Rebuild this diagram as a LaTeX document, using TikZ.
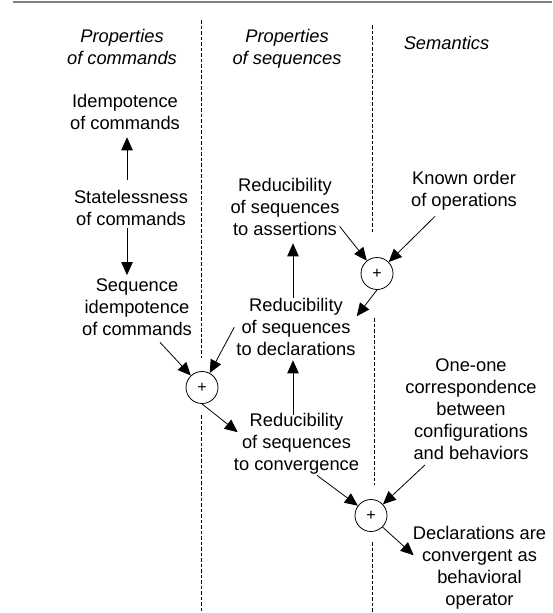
\documentclass[tikz,border=0pt]{standalone}
\usepackage{fontspec}
\setmainfont{Liberation Sans}
\usetikzlibrary{arrows.meta}
\newcommand\dfs{\fontsize{18.3}{22}\selectfont}
\begin{document}
\begin{tikzpicture}[x=1pt,y=-1pt,
  txt/.style={font=\dfs, align=center, inner sep=0pt, anchor=north, execute at begin node=\strut},
  hdr/.style={txt, font=\dfs\itshape},
  plus/.style={circle, draw, line width=0.8pt, minimum size=32pt, inner sep=0pt, font=\fontsize{16}{16}\selectfont},
  arr/.style={line width=0.8pt, -{Triangle[length=13pt,width=11.5pt]}},
  dline/.style={line width=0.8pt, dash pattern=on 3.5pt off 2pt},
  toprule/.style={line width=1.8pt, color=gray}]
\useasboundingbox (0,0) rectangle (552,613);
% top rule and column separators
\draw[toprule] (13,2) -- (552,2);
\draw[dline] (201,20) -- (201,358);
\draw[dline] (201,415) -- (201,613);
\draw[dline] (372,25) -- (372,233);
\draw[dline] (374,318) -- (374,485);
\draw[dline] (372,542) -- (372,613);
% headers
\node[hdr] (h1) at (122,28.6) {Properties\\of commands};
\node[hdr] (h2) at (287,28.6) {Properties\\of sequences};
\node[hdr] (h3) at (446.5,33.6) {Semantics};
% nodes
\node[txt] (idem) at (125,93.6) {Idempotence\\of commands};
\node[txt] (stat) at (131,189.6) {Statelessness\\of commands};
\node[txt] (seq) at (137,278.6) {Sequence\\idempotence\\of commands};
\node[txt] (asr) at (285,177.6) {Reducibility\\of sequences\\to assertions};
\node[txt] (dcl) at (296,297.6) {Reducibility\\of sequences\\to declarations};
\node[txt] (cnv) at (296.5,412.6) {Reducibility\\of sequences\\to convergence};
\node[txt] (known) at (464,171.1) {Known order\\of operations};
\node[txt] (one) at (471,358.6) {One-one\\correspondence\\between\\configurations\\and behaviors};
\node[txt] (dc) at (479.5,525.6) {Declarations are\\convergent as\\behavioral\\operator};
\node[plus] (p1) at (202,387.5) {+};
\node[plus] (p2) at (377,273.5) {+};
\node[plus] (p3) at (371,515.5) {+};
% connectors
\draw[arr] ([xshift=-4pt,yshift=10pt]stat.north) -- ([xshift=2pt,yshift=-1.4pt]idem.south);
\draw[arr] ([xshift=-4pt,yshift=3.5pt]stat.south) -- ([xshift=-10pt,yshift=3.5pt]seq.north);
\draw[arr] ([xshift=23pt]seq.south) -- (p1);
\draw[arr] ([xshift=-2pt,yshift=2.5pt]dcl.west) -- (p1);
\draw[arr] (p1.south) -- ([xshift=4pt,yshift=12.5pt]cnv.west);
\draw[arr] ([xshift=-3.5pt,yshift=-2.5pt]cnv.north) -- ([xshift=-3pt,yshift=1.5pt]dcl.south);
\draw[arr] ([xshift=-3pt]dcl.north) -- ([xshift=8pt,yshift=-1.5pt]asr.south);
\draw[arr] ([yshift=15.5pt]asr.south east) -- (p2);
\draw[arr] ([xshift=-29pt,yshift=-3pt]known.south) -- (p2);
\draw[arr] (p2.south) -- ([xshift=1pt,yshift=13.5pt]dcl.east);
\draw[arr] ([xshift=20.5pt,yshift=1.5pt]cnv.south) -- (p3);
\draw[arr] ([xshift=-46pt,yshift=1.5pt]one.south) -- (p3);
\draw[arr] (p3.-45) -- ([xshift=1pt,yshift=13.5pt]dc.west);
\end{tikzpicture}
\end{document}
